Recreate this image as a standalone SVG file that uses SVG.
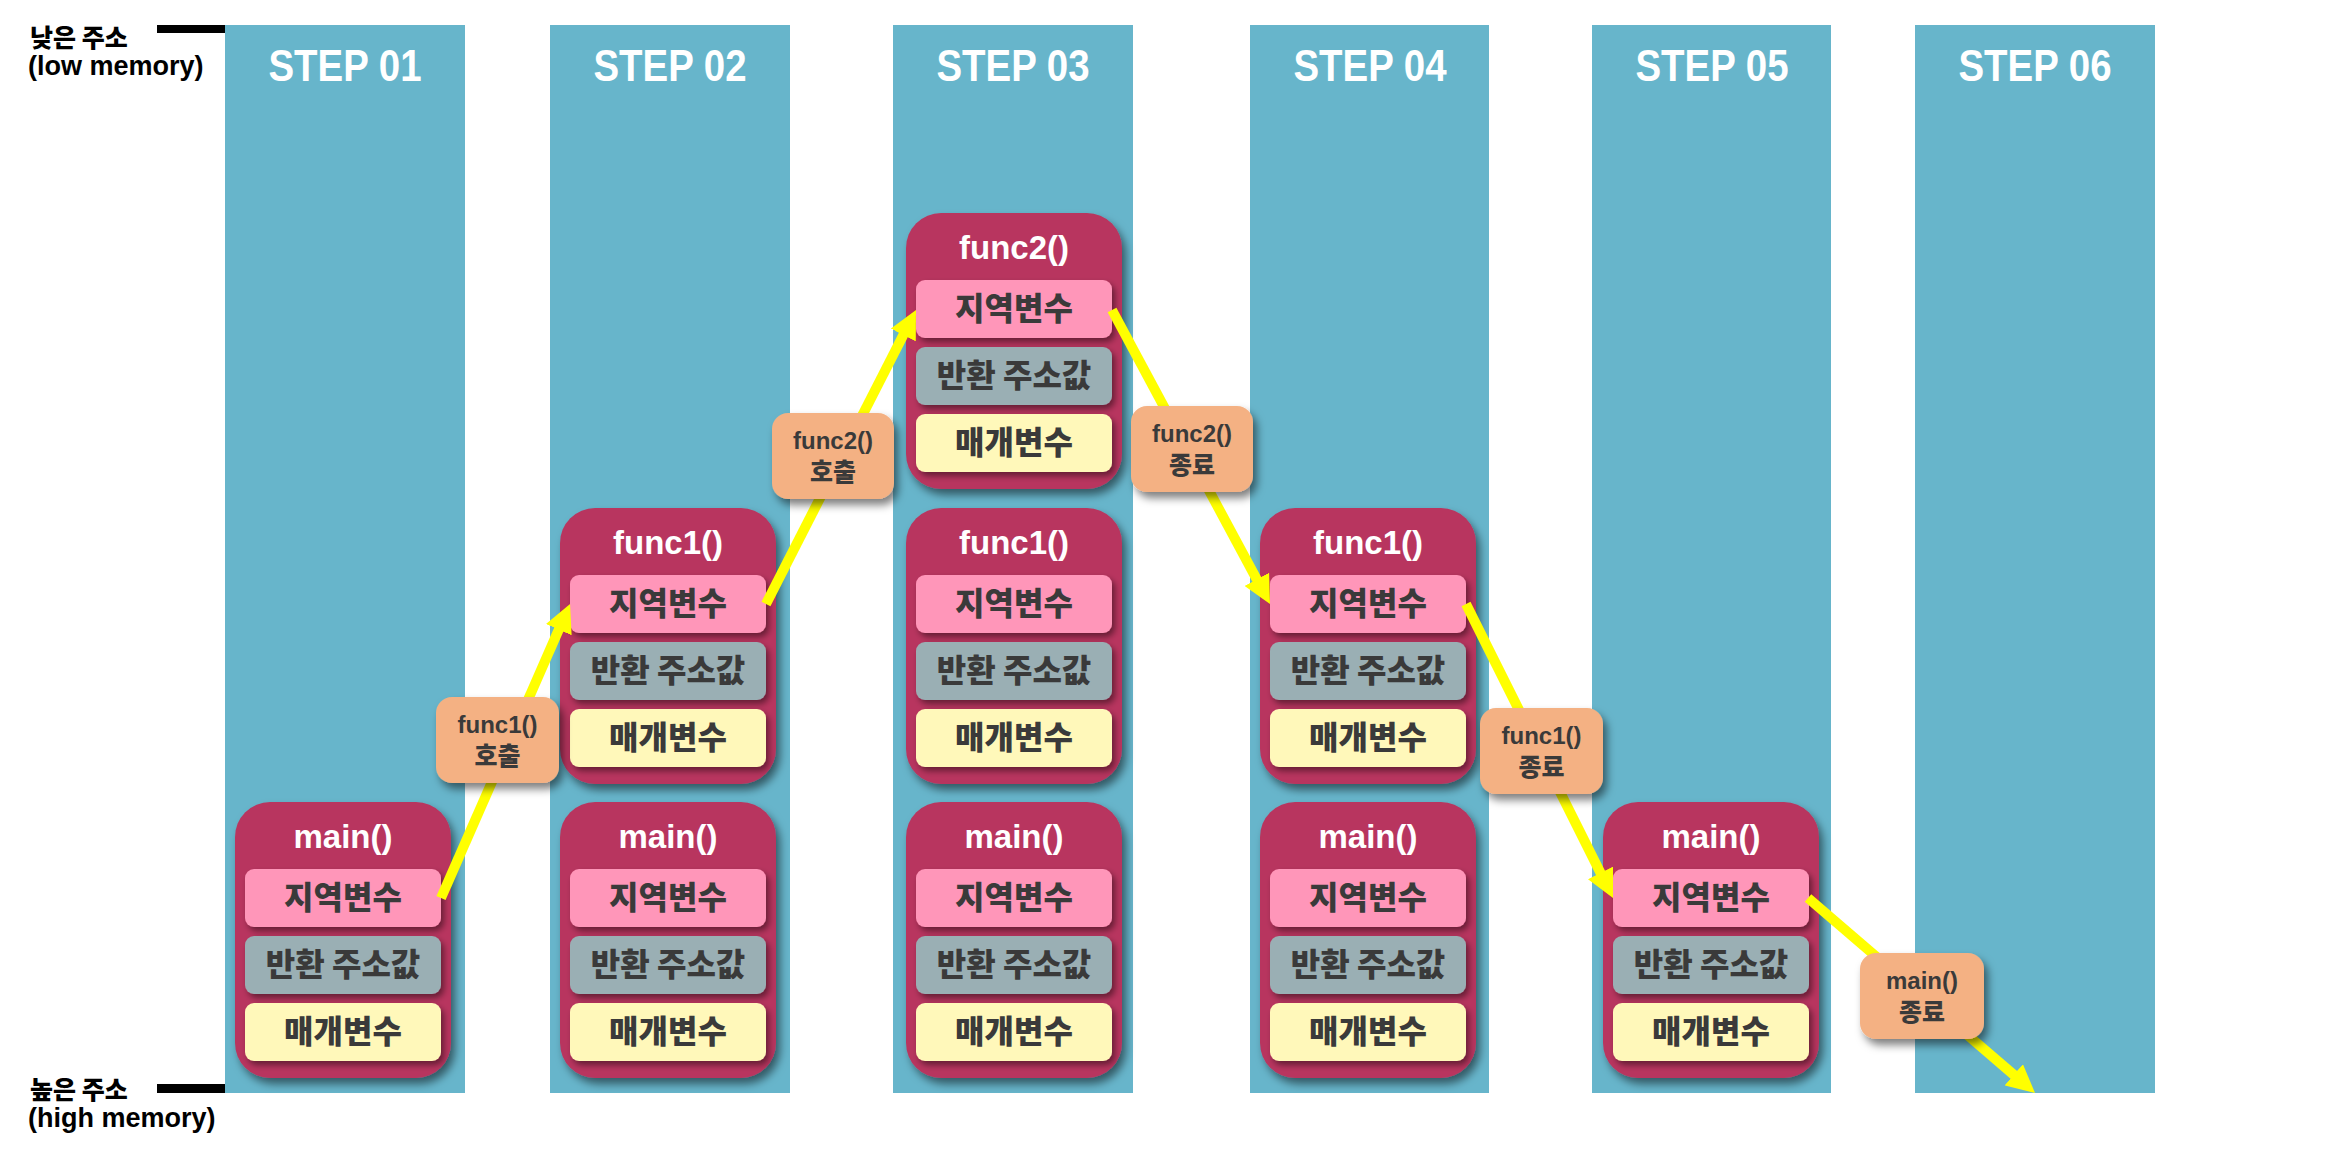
<svg xmlns="http://www.w3.org/2000/svg" width="2350" height="1151" viewBox="0 0 2350 1151">
<style>
.col{fill:#67b5cb}
.step{font-family:"Liberation Sans",Arial,sans-serif;font-weight:bold;font-size:44px;fill:#ffffff;text-anchor:middle}
.side{font-family:"Liberation Sans","Noto Sans CJK KR",sans-serif;font-weight:bold;font-size:27px;fill:#000000}
.sidek{font-family:"Noto Sans CJK KR",sans-serif;font-weight:900;font-size:25px;fill:#000000}
.frame{fill:#b8365f;filter:url(#sh)}
.title{font-family:"Liberation Sans",Arial,sans-serif;font-weight:bold;font-size:33px;fill:#ffffff;text-anchor:middle}
.r1{fill:#ff96b9;filter:url(#shs)}
.r2{fill:#9aafb4;filter:url(#shs)}
.r3{fill:#fff8ba;filter:url(#shs)}
.row{font-family:"Noto Sans CJK KR",sans-serif;font-weight:900;font-size:32px;fill:#3a3a3a;text-anchor:middle}
.lab{fill:#f4b183;filter:url(#sh)}
.labt{font-family:"Liberation Sans",Arial,sans-serif;font-weight:bold;font-size:24px;fill:#3a3a3a;text-anchor:middle}
.labk{font-family:"Noto Sans CJK KR",sans-serif;font-weight:900;font-size:25px;fill:#3a3a3a;text-anchor:middle}
.arr{stroke:#ffff00;stroke-width:10;fill:none;marker-end:url(#ah)}
</style>
<defs>
<filter id="sh" x="-20%" y="-20%" width="150%" height="150%">
<feDropShadow dx="4" dy="6" stdDeviation="4" flood-color="#000" flood-opacity="0.5"/>
</filter>
<filter id="shs" x="-20%" y="-30%" width="150%" height="170%">
<feDropShadow dx="3" dy="4" stdDeviation="3" flood-color="#000" flood-opacity="0.45"/>
</filter>
<marker id="ah" viewBox="0 0 28 28" refX="2" refY="14" markerWidth="28" markerHeight="28" markerUnits="userSpaceOnUse" orient="auto">
<path d="M0,0 L28,14 L0,28 z" fill="#ffff00"/>
</marker>
</defs>
<rect width="2350" height="1151" fill="#ffffff"/>
<g id="columns">
<rect class="col" x="225" y="25" width="240" height="1068"/>
<rect class="col" x="550" y="25" width="240" height="1068"/>
<rect class="col" x="893" y="25" width="240" height="1068"/>
<rect class="col" x="1250" y="25" width="239" height="1068"/>
<rect class="col" x="1592" y="25" width="239" height="1068"/>
<rect class="col" x="1915" y="25" width="240" height="1068"/>
<text class="step" x="345" y="81" textLength="153" lengthAdjust="spacingAndGlyphs">STEP 01</text>
<text class="step" x="670" y="81" textLength="153" lengthAdjust="spacingAndGlyphs">STEP 02</text>
<text class="step" x="1013" y="81" textLength="153" lengthAdjust="spacingAndGlyphs">STEP 03</text>
<text class="step" x="1370" y="81" textLength="153" lengthAdjust="spacingAndGlyphs">STEP 04</text>
<text class="step" x="1712" y="81" textLength="153" lengthAdjust="spacingAndGlyphs">STEP 05</text>
<text class="step" x="2035" y="81" textLength="153" lengthAdjust="spacingAndGlyphs">STEP 06</text>
</g>
<g id="axis">
<rect x="157" y="25" width="68" height="8" fill="#000"/>
<rect x="157" y="1084" width="68" height="9" fill="#000"/>
<text class="sidek" x="30" y="47">낮은 주소</text>
<text class="side" x="28" y="75">(low memory)</text>
<text class="sidek" x="30" y="1099">높은 주소</text>
<text class="side" x="28" y="1127">(high memory)</text>
</g>
<g id="nodes">
<g id="s1-main" transform="translate(235,802)">
<rect class="frame" width="216" height="276" rx="35"/>
<text class="title" x="108" y="46">main()</text>
<rect class="r1" x="10" y="67" width="196" height="58" rx="9"/><text class="row" x="108" y="107">지역변수</text>
<rect class="r2" x="10" y="134" width="196" height="58" rx="9"/><text class="row" x="108" y="174">반환 주소값</text>
<rect class="r3" x="10" y="201" width="196" height="58" rx="9"/><text class="row" x="108" y="241">매개변수</text>
</g>
<g id="s2-func1" transform="translate(560,508)">
<rect class="frame" width="216" height="276" rx="35"/>
<text class="title" x="108" y="46">func1()</text>
<rect class="r1" x="10" y="67" width="196" height="58" rx="9"/><text class="row" x="108" y="107">지역변수</text>
<rect class="r2" x="10" y="134" width="196" height="58" rx="9"/><text class="row" x="108" y="174">반환 주소값</text>
<rect class="r3" x="10" y="201" width="196" height="58" rx="9"/><text class="row" x="108" y="241">매개변수</text>
</g>
<g id="s2-main" transform="translate(560,802)">
<rect class="frame" width="216" height="276" rx="35"/>
<text class="title" x="108" y="46">main()</text>
<rect class="r1" x="10" y="67" width="196" height="58" rx="9"/><text class="row" x="108" y="107">지역변수</text>
<rect class="r2" x="10" y="134" width="196" height="58" rx="9"/><text class="row" x="108" y="174">반환 주소값</text>
<rect class="r3" x="10" y="201" width="196" height="58" rx="9"/><text class="row" x="108" y="241">매개변수</text>
</g>
<g id="s3-func2" transform="translate(906,213)">
<rect class="frame" width="216" height="276" rx="35"/>
<text class="title" x="108" y="46">func2()</text>
<rect class="r1" x="10" y="67" width="196" height="58" rx="9"/><text class="row" x="108" y="107">지역변수</text>
<rect class="r2" x="10" y="134" width="196" height="58" rx="9"/><text class="row" x="108" y="174">반환 주소값</text>
<rect class="r3" x="10" y="201" width="196" height="58" rx="9"/><text class="row" x="108" y="241">매개변수</text>
</g>
<g id="s3-func1" transform="translate(906,508)">
<rect class="frame" width="216" height="276" rx="35"/>
<text class="title" x="108" y="46">func1()</text>
<rect class="r1" x="10" y="67" width="196" height="58" rx="9"/><text class="row" x="108" y="107">지역변수</text>
<rect class="r2" x="10" y="134" width="196" height="58" rx="9"/><text class="row" x="108" y="174">반환 주소값</text>
<rect class="r3" x="10" y="201" width="196" height="58" rx="9"/><text class="row" x="108" y="241">매개변수</text>
</g>
<g id="s3-main" transform="translate(906,802)">
<rect class="frame" width="216" height="276" rx="35"/>
<text class="title" x="108" y="46">main()</text>
<rect class="r1" x="10" y="67" width="196" height="58" rx="9"/><text class="row" x="108" y="107">지역변수</text>
<rect class="r2" x="10" y="134" width="196" height="58" rx="9"/><text class="row" x="108" y="174">반환 주소값</text>
<rect class="r3" x="10" y="201" width="196" height="58" rx="9"/><text class="row" x="108" y="241">매개변수</text>
</g>
<g id="s4-func1" transform="translate(1260,508)">
<rect class="frame" width="216" height="276" rx="35"/>
<text class="title" x="108" y="46">func1()</text>
<rect class="r1" x="10" y="67" width="196" height="58" rx="9"/><text class="row" x="108" y="107">지역변수</text>
<rect class="r2" x="10" y="134" width="196" height="58" rx="9"/><text class="row" x="108" y="174">반환 주소값</text>
<rect class="r3" x="10" y="201" width="196" height="58" rx="9"/><text class="row" x="108" y="241">매개변수</text>
</g>
<g id="s4-main" transform="translate(1260,802)">
<rect class="frame" width="216" height="276" rx="35"/>
<text class="title" x="108" y="46">main()</text>
<rect class="r1" x="10" y="67" width="196" height="58" rx="9"/><text class="row" x="108" y="107">지역변수</text>
<rect class="r2" x="10" y="134" width="196" height="58" rx="9"/><text class="row" x="108" y="174">반환 주소값</text>
<rect class="r3" x="10" y="201" width="196" height="58" rx="9"/><text class="row" x="108" y="241">매개변수</text>
</g>
<g id="s5-main" transform="translate(1603,802)">
<rect class="frame" width="216" height="276" rx="35"/>
<text class="title" x="108" y="46">main()</text>
<rect class="r1" x="10" y="67" width="196" height="58" rx="9"/><text class="row" x="108" y="107">지역변수</text>
<rect class="r2" x="10" y="134" width="196" height="58" rx="9"/><text class="row" x="108" y="174">반환 주소값</text>
<rect class="r3" x="10" y="201" width="196" height="58" rx="9"/><text class="row" x="108" y="241">매개변수</text>
</g>
</g>
<g id="connectors">
<path class="arr" d="M441,898 L559.6,627.8"/>
<path class="arr" d="M766,604 L904.2,333.2"/>
<path class="arr" d="M1112,310 L1257.7,581.1"/>
<path class="arr" d="M1466,604 L1601.4,874.7"/>
<path class="arr" d="M1808,898 L2015.3,1076.1"/>
</g>
<g id="labels">
<g id="lab-call1">
<rect class="lab" x="436" y="697" width="123" height="86" rx="16"/>
<text class="labt" x="497.5" y="733">func1()</text>
<text class="labk" x="497.5" y="765">호출</text>
</g>
<g id="lab-call2">
<rect class="lab" x="772" y="413" width="122" height="86" rx="16"/>
<text class="labt" x="833" y="449">func2()</text>
<text class="labk" x="833" y="481">호출</text>
</g>
<g id="lab-end2">
<rect class="lab" x="1131" y="406" width="122" height="86" rx="16"/>
<text class="labt" x="1192" y="442">func2()</text>
<text class="labk" x="1192" y="474">종료</text>
</g>
<g id="lab-end1">
<rect class="lab" x="1480" y="708" width="123" height="86" rx="16"/>
<text class="labt" x="1541.5" y="744">func1()</text>
<text class="labk" x="1541.5" y="776">종료</text>
</g>
<g id="lab-endmain">
<rect class="lab" x="1860" y="953" width="124" height="86" rx="16"/>
<text class="labt" x="1922" y="989">main()</text>
<text class="labk" x="1922" y="1021">종료</text>
</g>
</g>
</svg>
